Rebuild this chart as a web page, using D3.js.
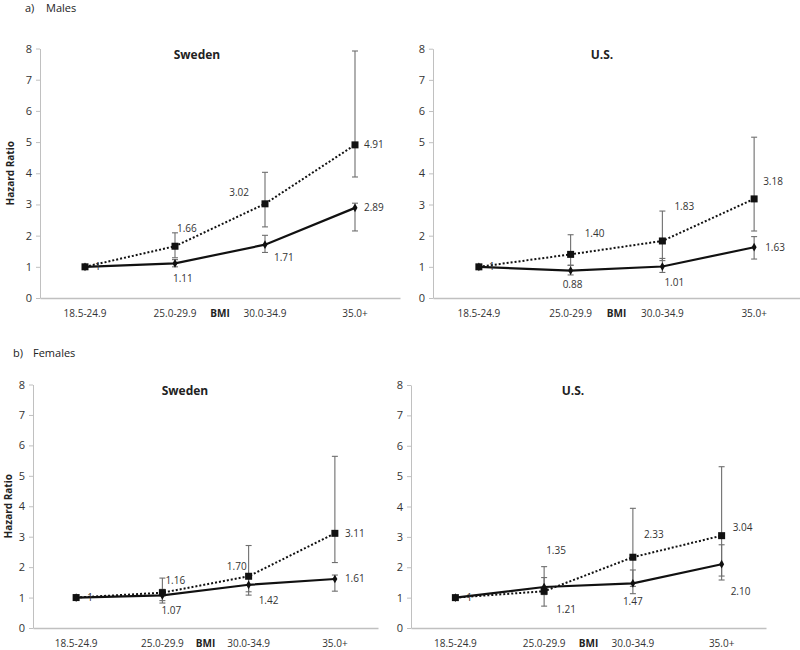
<!DOCTYPE html>
<html>
<head>
<meta charset="utf-8">
<script src="https://cdn.jsdelivr.net/npm/d3@7"></script>
<style>
  body { margin: 0; background: #fff; }
  svg { font-family: "Open Sans", sans-serif; }
</style>
</head>
<body>
<svg id="chart" width="800" height="650"></svg>
<script>
// BMI categories and y ticks
const categories = ["18.5-24.9", "25.0-29.9", "30.0-34.9", "35.0+"];
const yTickValues = [0, 1, 2, 3, 4, 5, 6, 7, 8];

// Males, Sweden
const maleSwedenSquare = [1, 1.66, 3.02, 4.91];
const maleSwedenSquareLo = [null, 1.29, 2.28, 3.88];
const maleSwedenSquareHi = [null, 2.09, 4.03, 7.92];
const maleSwedenDiamond = [1, 1.11, 1.71, 2.89];
const maleSwedenDiamondLo = [null, 1.0, 1.46, 2.15];
const maleSwedenDiamondHi = [null, 1.23, 2.01, 3.04];

// Males, U.S.
const maleUSSquare = [1, 1.40, 1.83, 3.18];
const maleUSSquareLo = [null, 1.05, 1.20, 2.15];
const maleUSSquareHi = [null, 2.03, 2.79, 5.16];
const maleUSDiamond = [1, 0.88, 1.01, 1.63];
const maleUSDiamondLo = [null, 0.74, 0.82, 1.25];
const maleUSDiamondHi = [null, 1.05, 1.27, 1.97];

// Females, Sweden
const femaleSwedenSquare = [1, 1.16, 1.70, 3.11];
const femaleSwedenSquareLo = [null, 0.82, 1.08, 2.15];
const femaleSwedenSquareHi = [null, 1.64, 2.71, 5.64];
const femaleSwedenDiamond = [1, 1.07, 1.42, 1.61];
const femaleSwedenDiamondLo = [null, 0.90, 1.19, 1.21];
const femaleSwedenDiamondHi = [null, 1.27, 1.70, 1.74];

// Females, U.S.
const femaleUSSquare = [1, 1.21, 2.33, 3.04];
const femaleUSSquareLo = [null, 0.72, 1.37, 1.71];
const femaleUSSquareHi = [null, 2.02, 3.94, 5.31];
const femaleUSDiamond = [1, 1.35, 1.47, 2.10];
const femaleUSDiamondLo = [null, 1.10, 1.13, 1.58];
const femaleUSDiamondHi = [null, 1.66, 1.91, 2.74];

// label offsets from the point [dx, dy, anchor] (null = no label)
const maleSwedenSquareLab = [null, [2, -18, "start"], [-16, -11, "end"], [9, 0, "start"]];
const maleSwedenDiamondLab = [[10, 0, "start"], [-2, 15, "start"], [9, 13, "start"], [9, 0, "start"]];
const maleUSSquareLab = [null, [14, -21, "start"], [12, -34, "start"], [9, -17, "start"]];
const maleUSDiamondLab = [[10, 0, "start"], [-8, 14, "start"], [2, 16, "start"], [11, 0, "start"]];
const femaleSwedenSquareLab = [null, [3, -12, "start"], [-2, -10, "end"], [10, 0, "start"]];
const femaleSwedenDiamondLab = [[11, 0, "start"], [-1, 15, "start"], [10, 16, "start"], [10, 0, "start"]];
const femaleUSSquareLab = [null, [12, 18, "start"], [11, -23, "start"], [11, -8, "start"]];
const femaleUSDiamondLab = [[11, 0, "start"], [2, -36, "start"], [-10, 18, "start"], [9, 27, "start"]];

const panels = [
  { title: "Sweden", left: 40, right: 400, top: 48.5, bottom: 298, titleX: 197, titleY: 55, yLabelX: 14,
    sq: [maleSwedenSquare, maleSwedenSquareLo, maleSwedenSquareHi, maleSwedenSquareLab],
    di: [maleSwedenDiamond, maleSwedenDiamondLo, maleSwedenDiamondHi, maleSwedenDiamondLab] },
  { title: "U.S.", left: 433, right: 800, top: 48.7, bottom: 298, titleX: 602, titleY: 55, yLabelX: null,
    sq: [maleUSSquare, maleUSSquareLo, maleUSSquareHi, maleUSSquareLab],
    di: [maleUSDiamond, maleUSDiamondLo, maleUSDiamondHi, maleUSDiamondLab] },
  { title: "Sweden", left: 33, right: 378, top: 384.5, bottom: 628, titleX: 185, titleY: 391, yLabelX: 12,
    sq: [femaleSwedenSquare, femaleSwedenSquareLo, femaleSwedenSquareHi, femaleSwedenSquareLab],
    di: [femaleSwedenDiamond, femaleSwedenDiamondLo, femaleSwedenDiamondHi, femaleSwedenDiamondLab] },
  { title: "U.S.", left: 411, right: 766, top: 385, bottom: 628, titleX: 573, titleY: 391, yLabelX: null,
    sq: [femaleUSSquare, femaleUSSquareLo, femaleUSSquareHi, femaleUSSquareLab],
    di: [femaleUSDiamond, femaleUSDiamondLo, femaleUSDiamondHi, femaleUSDiamondLab] }
];

const svg = d3.select("#chart");

// section headers
svg.append("text").attr("x", 25).attr("y", 12).attr("font-size", 11).attr("fill", "#222").text("a)");
svg.append("text").attr("x", 46).attr("y", 12).attr("font-size", 11).attr("fill", "#222").text("Males");
svg.append("text").attr("x", 13).attr("y", 357).attr("font-size", 11).attr("fill", "#222").text("b)");
svg.append("text").attr("x", 33).attr("y", 357).attr("font-size", 11).attr("fill", "#222").text("Females");

const fmt = d3.format(".2f");

panels.forEach(p => {
  const g = svg.append("g");

  const x = d3.scaleBand().domain(categories).range([p.left, p.right]);
  const y = d3.scaleLinear().domain([0, 8]).range([p.bottom, p.top]);
  const cx = (i) => x(categories[i]) + x.bandwidth() / 2;

  // y axis
  g.append("g")
    .attr("transform", `translate(${p.left},0)`)
    .call(d3.axisLeft(y).tickValues(yTickValues).tickSize(4).tickSizeOuter(0).tickPadding(4))
    .call(a => a.select(".domain").attr("stroke", "#c0c0c0"))
    .call(a => a.selectAll(".tick line").attr("stroke", "#c0c0c0"))
    .call(a => a.selectAll(".tick text").attr("font-size", 11).attr("fill", "#333").style("font-family", "Open Sans"));

  // x axis
  g.append("g")
    .attr("transform", `translate(0,${p.bottom})`)
    .call(d3.axisBottom(x).tickSize(0).tickSizeOuter(0).tickPadding(12))
    .call(a => a.select(".domain").attr("stroke", "#c0c0c0").attr("stroke-width", 1.5))
    .call(a => a.selectAll(".tick text").attr("font-size", 10).attr("fill", "#333").style("font-family", "Open Sans"));

  // BMI label
  g.append("text")
    .attr("x", (p.left + p.right) / 2)
    .attr("y", p.bottom + 19)
    .attr("text-anchor", "middle")
    .attr("font-size", 10).attr("font-weight", "bold").attr("fill", "#222")
    .text("BMI");

  // title
  g.append("text")
    .attr("x", p.titleX).attr("y", p.titleY + 4)
    .attr("text-anchor", "middle")
    .attr("font-size", 12).attr("font-weight", "bold").attr("fill", "#222")
    .text(p.title);

  if (p.yLabelX != null) {
    g.append("text")
      .attr("transform", `translate(${p.yLabelX},${(p.top + p.bottom) / 2}) rotate(-90)`)
      .attr("text-anchor", "middle")
      .attr("font-size", 10).attr("font-weight", "bold").attr("fill", "#222")
      .text("Hazard Ratio");
  }

  // error bars
  [p.sq, p.di].forEach(([vals, lo, hi]) => {
    const idx = vals.map((v, i) => i).filter(i => lo[i] != null);
    const eb = g.append("g").attr("stroke", "#6e6e6e").attr("stroke-width", 1.1);
    idx.forEach(i => {
      eb.append("line").attr("x1", cx(i)).attr("x2", cx(i)).attr("y1", y(lo[i])).attr("y2", y(hi[i]));
      [lo[i], hi[i]].forEach(v => {
        eb.append("line").attr("x1", cx(i) - 3).attr("x2", cx(i) + 3).attr("y1", y(v)).attr("y2", y(v));
      });
    });
  });

  const line = d3.line().x((d, i) => cx(i)).y(d => y(d));

  // dotted series (squares)
  g.append("path").datum(p.sq[0])
    .attr("d", line).attr("fill", "none")
    .attr("stroke", "#111").attr("stroke-width", 2).attr("stroke-dasharray", "2,2");
  // solid series (diamonds)
  g.append("path").datum(p.di[0])
    .attr("d", line).attr("fill", "none")
    .attr("stroke", "#111").attr("stroke-width", 2.2);

  g.selectAll(".sq").data(p.sq[0]).join("rect")
    .attr("x", (d, i) => cx(i) - 3.5).attr("y", d => y(d) - 3.5)
    .attr("width", 7).attr("height", 7).attr("fill", "#111");

  g.selectAll(".di").data(p.di[0]).join("path")
    .attr("d", d3.symbol(d3.symbolDiamond, 22))
    .attr("transform", (d, i) => `translate(${cx(i)},${y(d)})`)
    .attr("fill", "#111");

  // data labels
  [p.sq, p.di].forEach(([vals, , , lab]) => {
    vals.forEach((v, i) => {
      if (!lab[i]) return;
      const [dx, dy, anchor] = lab[i];
      g.append("text")
        .attr("x", cx(i) + dx).attr("y", y(v) + dy)
        .attr("dy", "0.35em")
        .attr("text-anchor", anchor)
        .attr("font-size", 10).attr("fill", "#333")
        .text(i === 0 ? "1" : fmt(v));
    });
  });
});
</script>
</body>
</html>
